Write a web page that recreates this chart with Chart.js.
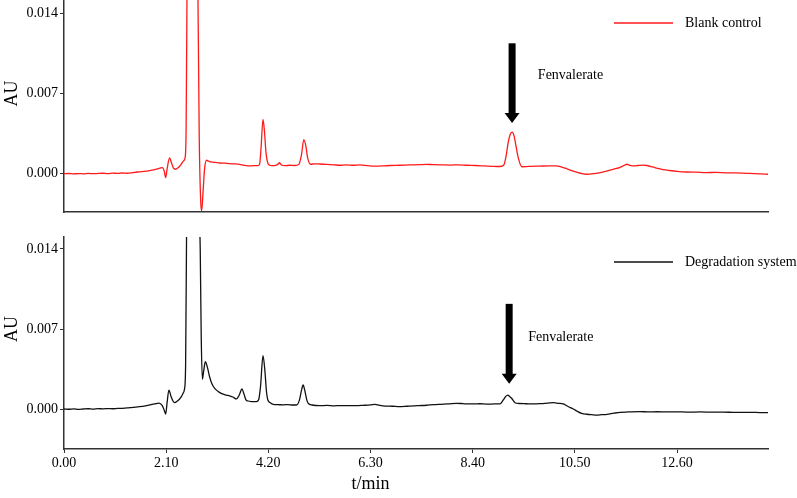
<!DOCTYPE html>
<html>
<head>
<meta charset="utf-8">
<script src="https://cdn.jsdelivr.net/npm/chart.js@4.4.0/dist/chart.umd.min.js"></script>
<style>
  html, body { margin: 0; padding: 0; background: #fff; }
  #wrap { position: relative; width: 797px; height: 498px; }
  .panel { position: absolute; left: 0; width: 797px; }
  #topPanel { top: 0; height: 230px; }
  #botPanel { top: 230px; height: 268px; }
</style>
</head>
<body>
<div id="wrap">
  <div class="panel" id="topPanel"><canvas id="blankChart"></canvas></div>
  <div class="panel" id="botPanel"><canvas id="degChart"></canvas></div>
</div>
<script>
// retention time ticks (min) and absorbance ticks (AU)
var timeTicks = [0, 2.1, 4.2, 6.3, 8.4, 10.5, 12.6];
var auTicks = [0, 0.007, 0.014];

// blank control trace
var blankTime = [0.00, 0.10, 0.20, 0.30, 0.40, 0.50, 0.60, 0.70, 0.80, 0.90,
  1.00, 1.10, 1.20, 1.30, 1.40, 1.50, 1.60, 1.70, 1.80, 1.90,
  1.97, 2.02, 2.06, 2.09, 2.12, 2.17, 2.21, 2.25, 2.29, 2.35,
  2.41, 2.46, 2.49, 2.51, 2.53, 2.57, 2.64, 2.71, 2.75, 2.78,
  2.81, 2.83, 2.86, 2.89, 2.93, 2.98, 3.05, 3.13, 3.20, 3.30,
  3.40, 3.50, 3.61, 3.70, 3.82, 3.90, 3.98, 4.02, 4.05, 4.09,
  4.12, 4.15, 4.19, 4.23, 4.27, 4.35, 4.40, 4.43, 4.46, 4.54,
  4.64, 4.74, 4.83, 4.88, 4.93, 4.97, 5.01, 5.07, 5.15, 5.26,
  5.40, 5.55, 5.67, 5.80, 5.95, 6.08, 6.25, 6.40, 6.55, 6.70,
  6.90, 7.10, 7.30, 7.45, 7.58, 7.75, 7.95, 8.10, 8.28, 8.45,
  8.65, 8.80, 8.96, 9.04, 9.09, 9.13, 9.17, 9.21, 9.25, 9.29,
  9.34, 9.41, 9.50, 9.60, 9.78, 9.95, 10.11, 10.20, 10.30, 10.40,
  10.50, 10.62, 10.74, 10.88, 11.02, 11.15, 11.29, 11.43, 11.52, 11.57,
  11.63, 11.70, 11.80, 11.90, 11.98, 12.10, 12.20, 12.31, 12.45, 12.60,
  12.80, 13.00, 13.20, 13.40, 13.60, 13.76, 13.95, 14.10, 14.30, 14.47];
var blankAU = [-0.00004, -0.00002, -0.00006, -0.00003, -0.00005, -0.00001, -0.00004, -0.00002, 0.00000, -0.00003,
  0.00001, -0.00001, 0.00002, 0.00000, 0.00004, 0.00011, 0.00014, 0.00019, 0.00027, 0.00036,
  0.00044, 0.00050, 0.00020, -0.00038, 0.00040, 0.00134, 0.00090, 0.00045, 0.00035, 0.00050,
  0.00080, 0.00110, 0.00140, 0.0040, 0.0170, 0.0420, 0.0600, 0.0420, 0.0170, 0.0030,
  -0.0025, -0.0033, -0.0015, 0.0004, 0.00114, 0.00105, 0.00098, 0.00094, 0.00090, 0.00088,
  0.00084, 0.00082, 0.00078, 0.00070, 0.00064, 0.00066, 0.00066, 0.00080, 0.0022, 0.00472,
  0.0037, 0.0019, 0.00088, 0.00070, 0.00067, 0.00070, 0.00080, 0.00092, 0.00075, 0.00066,
  0.00070, 0.00068, 0.00080, 0.0016, 0.00295, 0.0024, 0.0013, 0.00079, 0.00083, 0.00081,
  0.00077, 0.00074, 0.00070, 0.00074, 0.00070, 0.00073, 0.00066, 0.00062, 0.00064, 0.00068,
  0.00070, 0.00073, 0.00075, 0.00078, 0.00076, 0.00074, 0.00072, 0.00074, 0.00070, 0.00068,
  0.00064, 0.00061, 0.00059, 0.00072, 0.0016, 0.0027, 0.0034, 0.00361, 0.0033, 0.0024,
  0.0013, 0.00057, 0.00058, 0.00061, 0.00062, 0.00065, 0.00064, 0.00058, 0.00044, 0.00028,
  0.00014, 0.00000, -0.00009, -0.00004, 0.00006, 0.00018, 0.00035, 0.00052, 0.00070, 0.00079,
  0.00070, 0.00064, 0.00068, 0.00072, 0.00068, 0.00055, 0.00042, 0.00032, 0.00024, 0.00017,
  0.00011, 0.00009, 0.00006, 0.00007, 0.00004, 0.00003, 0.00001, -0.00002, -0.00005, -0.00009];

// degradation system trace
var degTime = [0.00, 0.10, 0.20, 0.30, 0.40, 0.50, 0.60, 0.70, 0.80, 0.90,
  1.00, 1.10, 1.20, 1.30, 1.41, 1.55, 1.70, 1.86, 1.95, 2.02,
  2.06, 2.09, 2.12, 2.156, 2.20, 2.24, 2.274, 2.33, 2.38, 2.412,
  2.45, 2.479, 2.50, 2.52, 2.56, 2.65, 2.74, 2.78, 2.80, 2.82,
  2.844, 2.87, 2.905, 2.95, 2.994, 3.04, 3.097, 3.18, 3.267, 3.33,
  3.405, 3.47, 3.543, 3.60, 3.658, 3.70, 3.74, 3.782, 3.86, 3.955,
  4.00, 4.04, 4.09, 4.13, 4.16, 4.19, 4.24, 4.30, 4.40, 4.50,
  4.60, 4.70, 4.78, 4.84, 4.88, 4.915, 4.95, 4.99, 5.02, 5.10,
  5.26, 5.40, 5.55, 5.70, 5.85, 6.01, 6.15, 6.30, 6.39, 6.48,
  6.60, 6.75, 6.90, 7.05, 7.20, 7.31, 7.45, 7.60, 7.75, 7.90,
  8.07, 8.20, 8.31, 8.41, 8.55, 8.70, 8.85, 8.96, 9.03, 9.08,
  9.12, 9.16, 9.20, 9.27, 9.35, 9.50, 9.65, 9.80, 9.95, 10.06,
  10.16, 10.26, 10.36, 10.47, 10.55, 10.64, 10.75, 10.85, 10.95, 11.05,
  11.16, 11.30, 11.43, 11.60, 11.84, 12.00, 12.20, 12.39, 12.60, 12.80,
  13.09, 13.30, 13.55, 13.80, 14.10, 14.30, 14.47];
var degAU = [0.00000, -0.00002, 0.00001, -0.00003, 0.00000, 0.00002, -0.00001, 0.00003, 0.00001, 0.00004,
  0.00002, 0.00005, 0.00006, 0.00009, 0.00015, 0.00020, 0.00030, 0.00044, 0.00052, 0.00030,
  -0.00010, -0.00044, 0.00060, 0.00166, 0.00110, 0.00070, 0.00055, 0.00070, 0.00090, 0.00108,
  0.00140, 0.00180, 0.0040, 0.0160, 0.0420, 0.0600, 0.0420, 0.0180, 0.0140, 0.0065,
  0.0026, 0.0033, 0.00414, 0.0036, 0.0028, 0.0022, 0.0018, 0.0015, 0.0013, 0.00122,
  0.00114, 0.00105, 0.00088, 0.0012, 0.00175, 0.0013, 0.0008, 0.0007, 0.00065, 0.00064,
  0.0008, 0.0020, 0.00466, 0.0033, 0.0016, 0.00079, 0.00055, 0.00041, 0.00038, 0.00036,
  0.00039, 0.00035, 0.00035, 0.0008, 0.0016, 0.0021, 0.0016, 0.0008, 0.0005, 0.00035,
  0.00029, 0.00031, 0.00028, 0.00030, 0.00029, 0.00029, 0.00032, 0.00036, 0.00040, 0.00033,
  0.00026, 0.00024, 0.00020, 0.00024, 0.00028, 0.00030, 0.00033, 0.00038, 0.00041, 0.00044,
  0.00050, 0.00047, 0.00044, 0.00044, 0.00046, 0.00043, 0.00044, 0.00044, 0.00079, 0.0011,
  0.00122, 0.0011, 0.00094, 0.00055, 0.00048, 0.00046, 0.00044, 0.00047, 0.00052, 0.00055,
  0.00050, 0.00044, 0.00022, 0.00000, -0.00020, -0.00038, -0.00046, -0.00050, -0.00053, -0.00050,
  -0.00047, -0.00037, -0.00029, -0.00026, -0.00023, -0.00025, -0.00024, -0.00026, -0.00025, -0.00027,
  -0.00026, -0.00028, -0.00027, -0.00030, -0.00029, -0.00031, -0.00032];

var serif = '"Liberation Serif", "Times New Roman", serif';
var axisColor = '#333';

function toPoints(ts, vs) {
  var pts = [];
  for (var i = 0; i < ts.length; i++) pts.push({ x: ts[i], y: vs[i] });
  return pts;
}

// legend, arrow, peak label and axis titles drawn on top of the plot
function notes(cfg) {
  return {
    id: 'notes',
    afterDraw: function (chart) {
      var ctx = chart.ctx, xs = chart.scales.x, ys = chart.scales.y, a = chart.chartArea;
      ctx.save();
      // legend entry
      var ly = a.top + cfg.legendY;
      ctx.strokeStyle = cfg.color;
      ctx.lineWidth = 1.3;
      ctx.beginPath();
      ctx.moveTo(a.right - 154, ly);
      ctx.lineTo(a.right - 95, ly);
      ctx.stroke();
      ctx.fillStyle = '#000';
      ctx.font = '14px ' + serif;
      ctx.textBaseline = 'middle';
      ctx.textAlign = 'left';
      ctx.fillText(cfg.label, a.right - 83, ly);
      // arrow pointing at the fenvalerate peak
      var ax = xs.getPixelForValue(cfg.arrowT);
      var y0 = ys.getPixelForValue(cfg.arrowFrom);
      var y1 = ys.getPixelForValue(cfg.arrowTo);
      ctx.fillRect(ax - 3.5, y0, 7, y1 - y0 - 9);
      ctx.beginPath();
      ctx.moveTo(ax - 7.5, y1 - 10);
      ctx.lineTo(ax + 7.5, y1 - 10);
      ctx.lineTo(ax, y1);
      ctx.closePath();
      ctx.fill();
      ctx.fillText('Fenvalerate', xs.getPixelForValue(cfg.textT), ys.getPixelForValue(cfg.textV));
      // y title, centred on the middle tick
      ctx.font = '18px ' + serif;
      ctx.textAlign = 'center';
      ctx.save();
      ctx.translate(12, ys.getPixelForValue(0.007));
      ctx.rotate(-Math.PI / 2);
      ctx.fillText('AU', 0, 0);
      ctx.restore();
      if (cfg.xTitle) {
        ctx.fillText('t/min', xs.getPixelForValue(6.3), a.bottom + 35);
      }
      ctx.restore();
    }
  };
}

function makeChart(id, ts, vs, cfg) {
  var ctx = document.getElementById(id).getContext('2d');
  return new Chart(ctx, {
    type: 'scatter',
    data: {
      datasets: [{
        data: toPoints(ts, vs),
        showLine: true,
        borderColor: cfg.color,
        borderWidth: 1.3,
        pointRadius: 0,
        cubicInterpolationMode: 'monotone'
      }]
    },
    options: {
      responsive: true,
      maintainAspectRatio: false,
      animation: false,
      events: [],
      layout: { padding: cfg.padding },
      plugins: { legend: { display: false }, tooltip: { enabled: false } },
      scales: {
        x: {
          type: 'linear',
          min: 0,
          max: 14.47,
          afterBuildTicks: function (s) { s.ticks = timeTicks.map(function (v) { return { value: v }; }); },
          afterFit: function (s) { s.height = cfg.xHeight; s.paddingLeft = 0; s.paddingRight = 0; },
          ticks: {
            display: cfg.xTicks,
            color: '#000',
            padding: 2,
            maxRotation: 0,
            font: { family: serif, size: 14 },
            callback: function (v) { return Number(v).toFixed(2); }
          },
          grid: { display: cfg.xTicks, drawOnChartArea: false, tickLength: 4, color: axisColor },
          border: { display: true, color: axisColor, width: 1.5 }
        },
        y: {
          type: 'linear',
          min: cfg.yMin,
          max: cfg.yMax,
          afterBuildTicks: function (s) { s.ticks = auTicks.map(function (v) { return { value: v }; }); },
          afterFit: function (s) { s.width = 64; s.paddingTop = 0; s.paddingBottom = 0; },
          ticks: {
            color: '#000',
            padding: 2,
            font: { family: serif, size: 14 },
            callback: function (v) { return Number(v).toFixed(3); }
          },
          grid: { drawOnChartArea: false, tickLength: 4, color: axisColor },
          border: { display: true, color: axisColor, width: 1.5 }
        }
      }
    },
    plugins: [notes(cfg)]
  });
}

makeChart('blankChart', blankTime, blankAU, {
  color: '#ff1a1a', label: 'Blank control', legendY: 23,
  arrowT: 9.21, arrowFrom: 0.0114, arrowTo: 0.0044,
  textT: 9.74, textV: 0.00858,
  yMin: -0.0034, yMax: 0.0152,
  padding: { top: 0, right: 29, bottom: 18, left: 0 },
  xHeight: 0, xTicks: false, xTitle: false
});

makeChart('degChart', degTime, degAU, {
  color: '#111', label: 'Degradation system', legendY: 25,
  arrowT: 9.15, arrowFrom: 0.0092, arrowTo: 0.0022,
  textT: 9.54, textV: 0.0063,
  yMin: -0.0035, yMax: 0.01505,
  padding: { top: 7, right: 29, bottom: 0, left: 0 },
  xHeight: 49, xTicks: true, xTitle: true
});
</script>
</body>
</html>
